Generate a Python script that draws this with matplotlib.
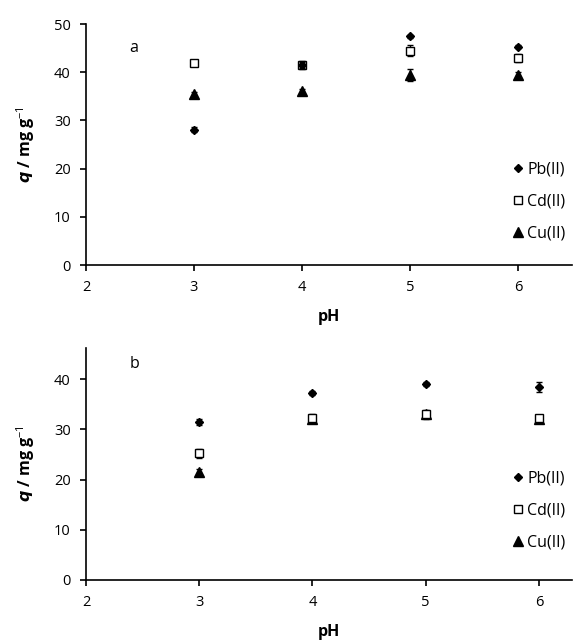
import numpy as np
import matplotlib.pyplot as plt

plt.rcParams['font.family'] = ['Open Sans', 'DejaVu Sans']
plt.rcParams['mathtext.fontset'] = 'custom'
plt.rcParams['mathtext.it'] = 'Open Sans:italic:bold'
plt.rcParams['mathtext.bf'] = 'Open Sans:bold'
plt.rcParams['mathtext.rm'] = 'Open Sans'

ph = [3, 4, 5, 6]

# panel a
pb_a = [28.1, 41.6, 47.5, 45.3]
cd_a = [41.9, 41.5, 44.5, 43.0]
cu_a = [35.4, 36.1, 39.4, 39.4]
pb_a_err = [0.5, 0.6, 0.3, 0.3]
cd_a_err = [0.5, 0.9, 1.2, 0.9]
cu_a_err = [0.6, 0.5, 1.3, 0.6]

# panel b
pb_b = [31.5, 37.3, 39.0, 38.5]
cd_b = [25.3, 32.2, 33.0, 32.2]
cu_b = [21.5, 32.0, 33.0, 32.0]
pb_b_err = [0.6, 0.4, 0.4, 1.0]
cd_b_err = [0.9, 0.8, 0.9, 0.7]
cu_b_err = [0.6, 0.7, 0.7, 0.7]

series_names = ['Pb(II)', 'Cd(II)', 'Cu(II)']

fig = plt.figure(figsize=(5.73, 6.44), dpi=100)
ax1 = fig.add_axes([0.150, 0.5885, 0.848, 0.374])
ax2 = fig.add_axes([0.150, 0.0994, 0.848, 0.360])

def draw(ax, pb, cd, cu, pbe, cde, cue, ylim, xlim, yticks, tag, leg_y):
    ax.errorbar(ph, cu, yerr=cue, fmt='^', color='black', ms=6.5, capsize=2.5, elinewidth=1, label=series_names[2], zorder=3)
    ax.errorbar(ph, cd, yerr=cde, fmt='s', mfc='white', mec='black', color='black', ms=5.5, capsize=2.5, elinewidth=1, mew=1, label=series_names[1], zorder=4)
    ax.errorbar(ph, pb, yerr=pbe, fmt='D', color='black', ms=4.5, capsize=2.5, elinewidth=1, label=series_names[0], zorder=5)
    ax.set_xlim(*xlim)
    ax.set_ylim(*ylim)
    ax.set_xticks([2, 3, 4, 5, 6])
    ax.set_yticks(yticks)
    ax.spines['top'].set_visible(False)
    ax.spines['right'].set_visible(False)
    ax.spines['left'].set_linewidth(1.2)
    ax.spines['bottom'].set_linewidth(1.2)
    ax.tick_params(direction='out', length=4, width=1.2, labelsize=10.5, pad=7)
    ax.set_xlabel('pH', fontsize=11.5, fontweight='bold', labelpad=10)
    ax.set_ylabel(r'$\boldsymbol{q}$ / mg g$^{\mathrm{-1}}$', fontsize=11.5, fontweight='bold', labelpad=12)
    ax.text(0.09, 0.9 if tag == 'a' else 0.93, tag, transform=ax.transAxes, fontsize=11.5, va='center')
    h, l = ax.get_legend_handles_labels()
    h = [x[0] for x in h][::-1]
    l = l[::-1]
    ax.legend(h, l, loc='lower right', bbox_to_anchor=(1.0, leg_y), frameon=False, fontsize=11.5,
              handletextpad=0.05, handlelength=1.0, labelspacing=1.0, borderaxespad=0)

draw(ax1, pb_a, cd_a, cu_a, pb_a_err, cd_a_err, cu_a_err, (0, 50), (2, 6.5), [0, 10, 20, 30, 40, 50], 'a', 0.07)
draw(ax2, pb_b, cd_b, cu_b, pb_b_err, cd_b_err, cu_b_err, (0, 46.2), (2, 6.29), [0, 10, 20, 30, 40], 'b', 0.10)

fig.savefig('out.png', dpi=100)
